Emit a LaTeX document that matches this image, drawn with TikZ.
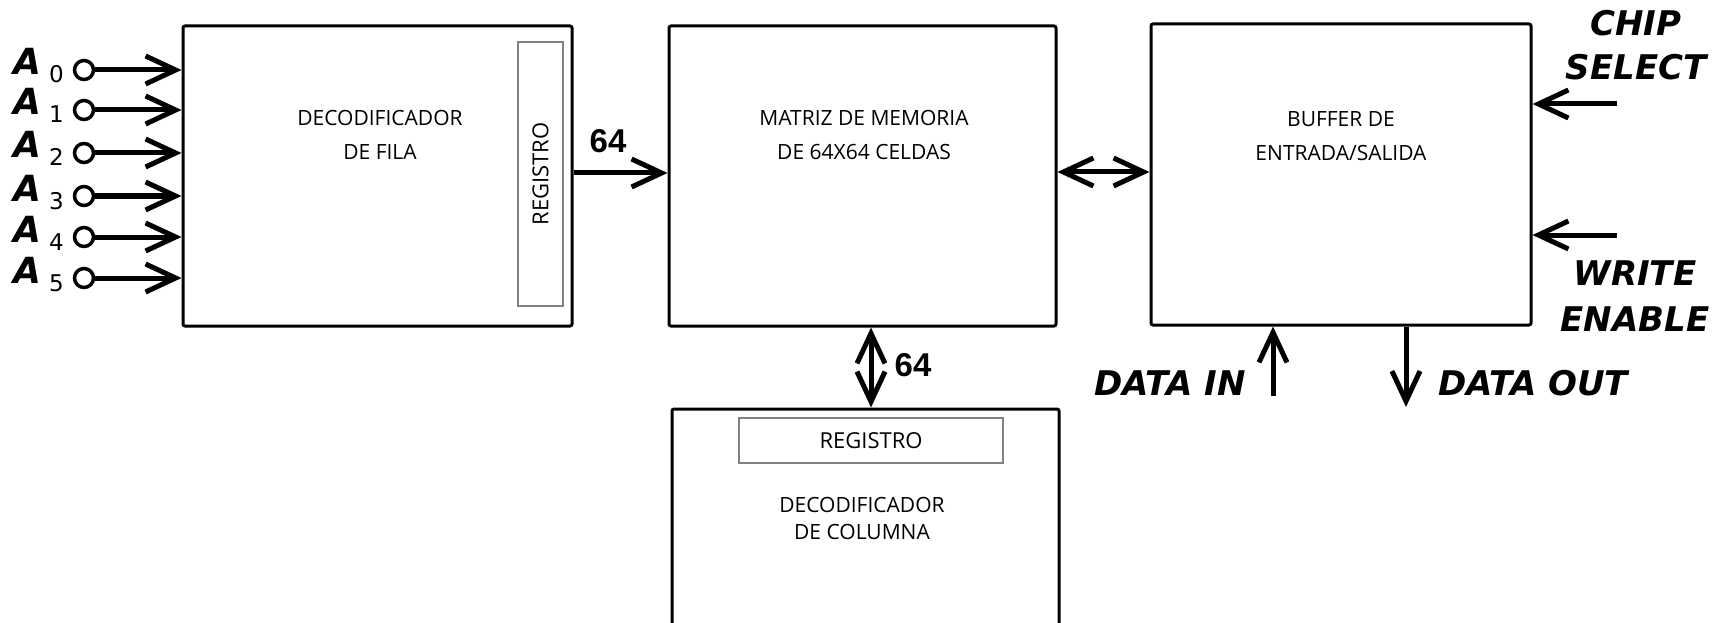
\documentclass[tikz,border=0pt]{standalone}
\usepackage{fontspec}
\setmainfont{Open Sans}
\newfontfamily\sigfont{DejaVu Sans}
\newfontfamily\numfont{Liberation Sans}
\usetikzlibrary{arrows.meta}
\begin{document}
\begin{tikzpicture}[x=1pt,y=-1pt,
  blk/.style={draw, line width=3pt, rounded corners=2pt, inner sep=0pt},
  reg/.style={draw=black!50, line width=1.5pt, inner sep=0pt, font=\fontsize{22}{24}\selectfont},
  txt/.style={align=center, inner sep=0pt},
  arr/.style={line width=5pt, -{Straight Barb[length=30pt,width=28pt]}},
  darr/.style={line width=5pt, {Straight Barb[length=30pt,width=28pt]}-{Straight Barb[length=30pt,width=28pt]}},
  pin/.style={circle, draw, line width=3.5pt, minimum size=19pt, inner sep=0pt},
  sig/.style={font=\sigfont\bfseries\itshape\fontsize{34}{44}\selectfont, align=center, inner sep=0pt},
  num/.style={font=\numfont\bfseries\fontsize{33}{33}\selectfont, inner sep=0pt},
  alab/.style={anchor=base west, inner sep=0pt}
]
\useasboundingbox (0,0) rectangle (1725,623);
\clip (0,0) rectangle (1725,623);

% blocks
\node[blk, minimum width=389pt, minimum height=300pt] (row) at (377.5,176) {};
\node[reg, rotate=90, minimum width=264pt, minimum height=45pt] (rowreg) at (540.5,174) {REGISTRO};
\node[blk, minimum width=387pt, minimum height=300pt] (mat) at (862.5,176) {};
\node[blk, minimum width=380pt, minimum height=301pt] (buf) at (1341,174.5) {};
\node[blk, minimum width=387pt, minimum height=260pt] (col) at (865.5,539) {};
\node[reg, minimum width=264pt, minimum height=45pt] (colreg) at (871,440.5) {REGISTRO};

% block texts
\node[txt, font=\fontsize{21}{34}\selectfont] (rowtxt) at (380,134.5) {DECODIFICADOR\\DE FILA};
\node[txt, font=\fontsize{21}{34}\selectfont] (mattxt) at (864,135) {MATRIZ DE MEMORIA\\DE 64X64 CELDAS};
\node[txt, font=\fontsize{21}{34}\selectfont] (buftxt) at (1341,136) {BUFFER DE\\ENTRADA/SALIDA};
\node[txt, font=\fontsize{21}{27}\selectfont] (coltxt) at (862,518.5) {DECODIFICADOR\\DE COLUMNA};

% address pins
\foreach \i/\y in {0/70,1/110,2/153,3/196,4/237,5/278}{
  \node[pin] (p\i) at (84,\y) {};
  \draw[arr] (p\i.east) -- (p\i.east -| row.west);
  \node[alab] (a\i) at (13,\y+5) {{\sigfont\bfseries\itshape\fontsize{36}{36}\selectfont A}\hspace{8pt}\raisebox{-8pt}{\sigfont\fontsize{23}{23}\selectfont \i}};
}

% connections
\draw[arr] ([yshift=3pt]row.east) -- ([yshift=3pt]mat.west);
\node[num] (n64a) at (608,141) {64};
\draw[darr] ([yshift=4pt]mat.east) -- ([yshift=4pt]mat.east -| buf.west);
\draw[darr] (colreg.north |- mat.south) -- (colreg.north |- col.north);
\node[num] (n64b) at (913,365) {64};

\coordinate (cs) at (1617,104);
\coordinate (we) at (1617,235);
\coordinate (di) at (1273,396);
\coordinate (do) at (1406,407);
\draw[arr] (cs) -- (cs -| buf.east);
\draw[arr] (we) -- (we -| buf.east);
\draw[arr] (di) -- (di |- buf.south);
\draw[arr] (do |- buf.south) -- (do);

\node[sig] (cstxt) at (1636,45) {CHIP\\SELECT};
\node[sig, font=\sigfont\bfseries\itshape\fontsize{34}{46}\selectfont] (wetxt) at (1635,296) {WRITE\\ENABLE};
\node[sig] (ditxt) at (1170,383) {DATA IN};
\node[sig] (dotxt) at (1533,383) {DATA OUT};
\end{tikzpicture}
\end{document}
